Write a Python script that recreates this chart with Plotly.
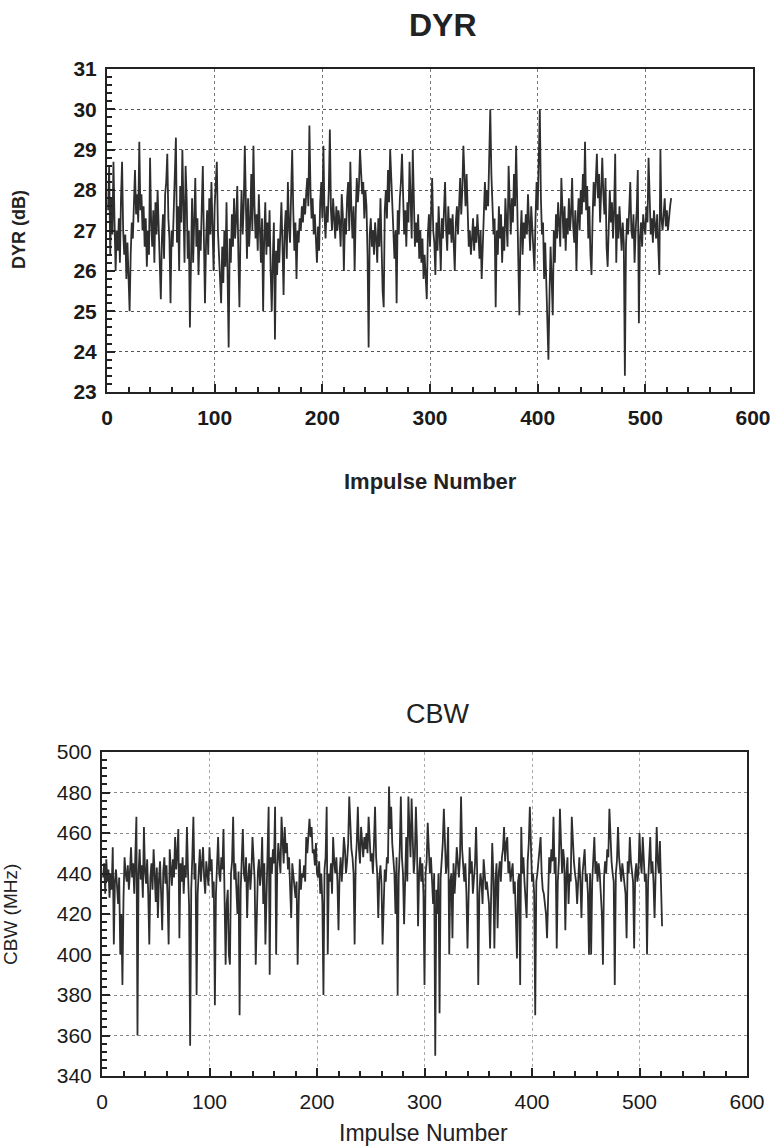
import numpy as np
import plotly.graph_objects as go

# ---------------- data ----------------
dyr_db = [
    27.5, 28.6, 26.4, 27.8, 26.9, 28.7, 27.2, 26.0, 27.0, 26.5,
    27.3, 26.2, 27.8, 28.7, 27.0, 26.4, 26.9, 25.8, 26.7, 26.0,
    25.0, 26.4, 27.2, 26.8, 27.9, 28.5, 27.4, 27.9, 27.2, 29.2,
    27.5, 27.9, 27.0, 27.6, 26.6, 27.3, 26.1, 27.0, 26.4, 28.8,
    27.2, 26.6, 27.5, 26.2, 27.7, 26.9, 28.0, 27.0, 26.5, 25.3,
    26.8, 27.4, 26.3, 27.9, 28.2, 28.9, 27.3, 26.8, 25.2, 27.0,
    26.6, 27.8, 28.4, 29.3, 26.7, 27.6, 26.0, 28.1, 27.2, 29.0,
    27.4, 26.2, 28.6, 27.8, 26.3, 27.0, 24.6, 26.9, 27.8, 26.2,
    27.6, 28.3, 26.6, 27.3, 25.9, 27.0, 26.5, 28.0, 28.6, 26.8,
    25.2, 26.7, 27.5, 26.4, 27.8, 26.9, 28.2, 27.1, 26.0, 27.6,
    28.3, 28.7, 27.0, 26.5, 25.8, 25.2, 26.6, 25.7, 27.0, 26.1,
    27.7, 25.5, 24.1, 26.8, 26.2, 27.4, 26.6, 27.8, 26.8, 27.3,
    28.1, 26.4, 25.1, 27.0, 28.0, 26.9, 27.6, 29.1, 27.3, 26.3,
    27.8, 26.6, 27.2, 28.4, 27.0, 29.1, 27.6, 26.8, 27.4, 26.5,
    27.9, 27.1, 26.2, 27.3, 25.0, 26.8, 27.7, 26.4, 27.2, 26.6,
    27.5, 26.0, 25.0, 26.3, 27.2, 24.3, 26.5, 25.9, 26.8, 26.2,
    27.3, 27.7, 26.6, 25.4, 27.0, 27.5, 26.3, 28.2, 27.1, 26.7,
    27.9, 29.0, 27.5, 26.5, 27.2, 25.8, 27.0, 26.7, 27.3, 27.0,
    27.6, 27.2, 27.8, 27.4, 27.9, 28.3, 27.6, 29.6, 28.0, 27.3,
    27.8, 26.9, 27.4, 26.7, 26.2, 27.1, 26.5, 27.7, 28.2, 27.3,
    29.1, 27.4, 26.8, 27.6, 27.2, 28.0, 29.5, 27.5, 27.0, 27.8,
    27.3, 26.8, 27.6, 27.0, 27.5, 27.2, 26.6, 27.9, 27.4, 26.0,
    27.3, 26.9, 27.8, 28.2, 27.0, 28.7, 27.5, 26.8, 27.6, 26.0,
    27.4, 28.3, 27.7, 28.1, 29.0, 28.4, 27.9, 28.2, 27.3, 28.0,
    27.6, 26.4, 24.1, 26.9, 27.3, 26.6, 27.0, 26.4, 27.2, 26.8,
    26.2, 27.3, 26.6, 27.8, 26.3, 25.5, 25.1, 27.5, 28.0, 27.3,
    28.5, 27.7, 29.0, 28.2, 27.5, 26.9, 26.3, 27.0, 25.2, 27.5,
    26.9, 27.8, 28.2, 28.9, 27.4, 26.9, 27.5, 26.6, 27.7, 27.2,
    28.7, 27.3, 26.8, 29.0, 27.6, 26.6, 27.2, 26.7, 27.4, 26.3,
    27.0, 26.2, 26.8, 25.8, 26.4, 25.6, 25.3, 26.9, 27.4, 26.6,
    27.5, 28.3, 27.0, 26.7, 25.9, 27.2, 26.5, 27.6, 26.9, 26.0,
    27.3, 26.8, 27.5, 28.2, 27.0, 26.5, 27.6, 26.9, 27.3, 26.7,
    27.4, 26.8, 26.0, 27.2, 27.6, 26.9, 27.8, 28.3, 27.4, 28.0,
    29.1, 28.1, 27.6, 28.4, 27.2, 26.6, 27.0, 26.4, 26.8, 27.3,
    26.5, 27.1, 26.7, 27.4, 26.9, 26.3, 27.0, 25.8, 26.6, 27.3,
    28.2, 27.5, 28.0, 27.6, 28.7, 30.0, 28.4, 27.8, 26.9, 27.3,
    25.1, 27.0, 26.4, 27.6, 26.8, 27.4, 26.2, 27.1, 26.5, 27.8,
    27.0, 26.6, 28.6, 27.4, 26.9, 27.8, 27.2, 28.4, 27.6, 29.1,
    27.3, 26.6, 24.9, 26.8, 27.5, 26.4, 27.2, 26.8, 27.4, 26.9,
    27.9, 27.2, 26.5, 27.6, 27.0, 26.3, 26.0, 27.3, 28.2, 27.5,
    28.7, 30.0, 27.8, 26.9, 27.2, 25.8, 26.7, 25.5, 24.6, 23.8,
    25.4, 26.6, 25.8, 24.9, 27.0, 26.2, 27.4, 26.8, 27.7, 27.1,
    26.6, 28.3, 27.2, 26.8, 27.6, 26.5, 27.3, 26.9, 27.8, 27.0,
    27.4, 28.3, 27.1, 26.7, 27.5, 26.0, 27.2, 27.8, 27.0, 28.0,
    27.4, 28.4, 27.7, 29.2, 27.5, 28.1, 26.8, 27.6, 26.4, 25.9,
    27.3, 28.2, 27.6, 28.6, 28.9, 27.8, 28.4, 27.2, 28.0, 28.8,
    27.9, 27.4, 28.3, 26.6, 26.1, 27.5, 28.0, 27.2, 27.7, 26.8,
    27.5, 28.9, 26.2, 27.4, 26.8, 27.6, 27.0, 26.5, 27.2, 26.7,
    23.4, 26.6, 27.3, 26.9, 27.5, 28.2, 27.0, 26.8, 27.4, 26.2,
    27.0, 27.5, 28.5, 24.7, 26.8, 27.2, 26.6, 27.4, 27.1, 26.9,
    27.6, 27.2, 28.8, 27.4, 26.9, 27.3, 26.7, 27.5, 27.0, 26.8,
    27.4, 26.5, 25.9, 29.0, 27.3, 27.0, 27.6, 27.8, 27.1, 27.5,
    27.0, 27.4, 27.6, 27.8,
]

cbw_mhz = [
    438, 445, 430, 447, 436, 442, 428, 440, 432, 453,
    405, 436, 442, 430, 425, 438, 400, 420, 385, 428,
    448, 440, 436, 444, 432, 441, 453, 438, 445, 430,
    446, 468, 360, 440, 452, 437, 444, 428, 463, 441,
    435, 447, 430, 405, 438, 445, 432, 452, 440, 426,
    443, 418, 437, 446, 430, 412, 441, 448, 435, 444,
    428, 405, 452, 440, 434, 447, 438, 458, 442, 450,
    462, 408, 445, 436, 448, 430, 444, 438, 463, 441,
    424, 355, 432, 448, 468, 437, 445, 380, 430, 441,
    452, 436, 444, 453, 438, 430, 446, 440, 434, 453,
    441, 447, 428, 436, 375, 430, 445, 458, 440, 436,
    448, 442, 462, 430, 395, 425, 432, 400, 395, 440,
    446, 468, 437, 445, 430, 420, 441, 370, 432, 447,
    462, 440, 436, 448, 418, 438, 445, 432, 441, 458,
    446, 437, 395, 430, 441, 447, 434, 440, 458, 425,
    445, 405, 438, 450, 473, 390, 448, 440, 452, 445,
    473, 400, 442, 455, 448, 440, 468, 452, 445, 463,
    450, 455, 442, 448, 436, 418, 445, 440, 432, 428,
    436, 395, 425, 447, 432, 440, 438, 444, 436, 458,
    450, 462, 467, 458, 463, 450, 452, 444, 455, 440,
    438, 446, 430, 440, 425, 380, 442, 448, 473, 400,
    440, 436, 445, 430, 458, 446, 440, 448, 436, 412,
    440, 448, 436, 445, 458, 452, 440, 446, 455, 478,
    458, 452, 448, 440, 405, 446, 455, 473, 452, 445,
    463, 455, 448, 458, 452, 460, 450, 468, 455, 446,
    450, 440, 455, 473, 448, 440, 418, 438, 444, 435,
    405, 430, 442, 436, 448, 445, 483, 462, 473, 455,
    448, 440, 420, 448, 380, 438, 452, 478, 448, 440,
    415, 445, 458, 436, 478, 462, 448, 477, 455, 440,
    448, 473, 455, 414, 440, 448, 436, 445, 430, 385,
    440, 446, 465, 452, 440, 448, 436, 425, 440, 350,
    432, 420, 440, 371, 438, 446, 455, 472, 448, 440,
    446, 463, 400, 436, 440, 408, 445, 430, 440, 453,
    446, 438, 448, 478, 452, 440, 436, 445, 430, 403,
    438, 453, 440, 446, 430, 436, 445, 463, 440, 385,
    430, 440, 436, 425, 447, 440, 432, 436, 428, 425,
    403, 432, 455, 440, 403, 436, 445, 413, 440, 446,
    436, 448, 452, 463, 446, 455, 458, 440, 446, 436,
    440, 445, 430, 436, 418, 398, 436, 440, 385, 463,
    440, 448, 436, 428, 418, 446, 455, 473, 445, 436,
    440, 430, 370, 436, 440, 446, 452, 458, 440, 432,
    430, 426, 420, 408, 432, 448, 440, 452, 446, 468,
    440, 448, 403, 436, 446, 472, 455, 440, 452, 446,
    412, 440, 448, 425, 440, 436, 468, 452, 446, 440,
    436, 425, 440, 448, 436, 418, 440, 445, 452, 436,
    440, 430, 400, 440, 400, 436, 448, 458, 440, 446,
    436, 445, 440, 430, 420, 395, 438, 446, 440, 452,
    448, 472, 455, 446, 440, 436, 385, 440, 446, 463,
    448, 440, 436, 445, 440, 436, 430, 408, 446, 440,
    458, 446, 440, 436, 403, 440, 445, 436, 440, 460,
    446, 440, 458, 446, 436, 440, 400, 436, 448, 458,
    440, 446, 436, 418, 440, 463, 446, 440, 456, 430,
    414,
]

dyr_impulse = np.arange(1, len(dyr_db) + 1)
cbw_impulse = np.arange(1, len(cbw_mhz) + 1)

x_ticks = [0, 100, 200, 300, 400, 500, 600]
dyr_ticks = [23, 24, 25, 26, 27, 28, 29, 30, 31]
cbw_ticks = [340, 360, 380, 400, 420, 440, 460, 480, 500]

# ---------------- layout helpers ----------------
W, H = 778, 1148
def px(x):
    return x / W
def py(y):
    return 1 - y / H

LINE = "#2e2e2e"
FRAME = "#222222"
FONT = "Liberation Sans, Arial, sans-serif"

fig = go.Figure()
fig.add_trace(go.Scatter(x=dyr_impulse, y=dyr_db, mode="lines",
                         line=dict(color=LINE, width=1.8),
                         xaxis="x", yaxis="y", showlegend=False))
fig.add_trace(go.Scatter(x=cbw_impulse, y=cbw_mhz, mode="lines",
                         line=dict(color=LINE, width=1.8),
                         xaxis="x2", yaxis="y2", showlegend=False))

def xax(domain, anchor, grid, bold):
    return dict(domain=domain, anchor=anchor, range=[0, 600], automargin=False,
                tickvals=x_ticks, ticks="inside", ticklen=8, tickwidth=1.5,
                tickcolor=FRAME,
                minor=dict(dtick=20, ticks="inside", ticklen=5, tickcolor=FRAME, showgrid=False),
                showline=True, mirror=True, linewidth=2, linecolor=FRAME,
                showgrid=True, gridcolor=grid, griddash="dot", gridwidth=1,
                zeroline=False, ticklabelstandoff=6,
                tickfont=dict(family=FONT, size=21, color="#1a1a1a",
                              weight="bold" if bold else "normal"))

def yax(domain, anchor, rng, vals, minor_dt, grid, bold):
    return dict(domain=domain, anchor=anchor, range=rng, automargin=False,
                tickvals=vals, ticks="inside", ticklen=8, tickwidth=1.5,
                tickcolor=FRAME,
                minor=dict(dtick=minor_dt, ticks="inside", ticklen=5, tickcolor=FRAME, showgrid=False),
                showline=True, mirror=True, linewidth=2, linecolor=FRAME,
                showgrid=True, gridcolor=grid, griddash="dot", gridwidth=1.2,
                zeroline=False, ticklabelstandoff=4,
                tickfont=dict(family=FONT, size=21, color="#1a1a1a",
                              weight="bold" if bold else "normal"))

fig.update_layout(
    width=W, height=H,
    margin=dict(l=0, r=0, t=0, b=0, autoexpand=False),
    paper_bgcolor="white", plot_bgcolor="white",
    showlegend=False,
    xaxis=xax([px(107), px(753)], "y", "#777777", True),
    yaxis=yax([py(392), py(69)], "x", [23, 31], dyr_ticks, 0.2, "#555555", True),
    xaxis2=xax([px(102), px(747)], "y2", "#aaaaaa", False),
    yaxis2=yax([py(1076), py(752)], "x2", [340, 500], cbw_ticks, 4, "#888888", False),
)

ann = [
    dict(text="<b>DYR</b>", x=px(443), y=py(25), font=dict(family=FONT, size=32, color="#222")),
    dict(text="CBW", x=px(438), y=py(714), font=dict(family=FONT, size=27, color="#222")),
    dict(text="<b>Impulse Number</b>", x=px(430), y=py(481), font=dict(family=FONT, size=22, color="#222")),
    dict(text="Impulse Number", x=px(423), y=py(1133), font=dict(family=FONT, size=23, color="#222")),
    dict(text="<b>DYR (dB)</b>", x=px(19), y=py(230), textangle=-90, font=dict(family=FONT, size=18, color="#222")),
    dict(text="CBW (MHz)", x=px(11), y=py(915), textangle=-90, font=dict(family=FONT, size=19, color="#222")),
]
for a in ann:
    a.update(xref="paper", yref="paper", showarrow=False, xanchor="center", yanchor="middle")
fig.update_layout(annotations=ann)

fig.write_html(
    "out.html",
    config={"displayModeBar": False},
    post_script="document.body.style.margin='0px';document.body.style.overflow='hidden';",
)
